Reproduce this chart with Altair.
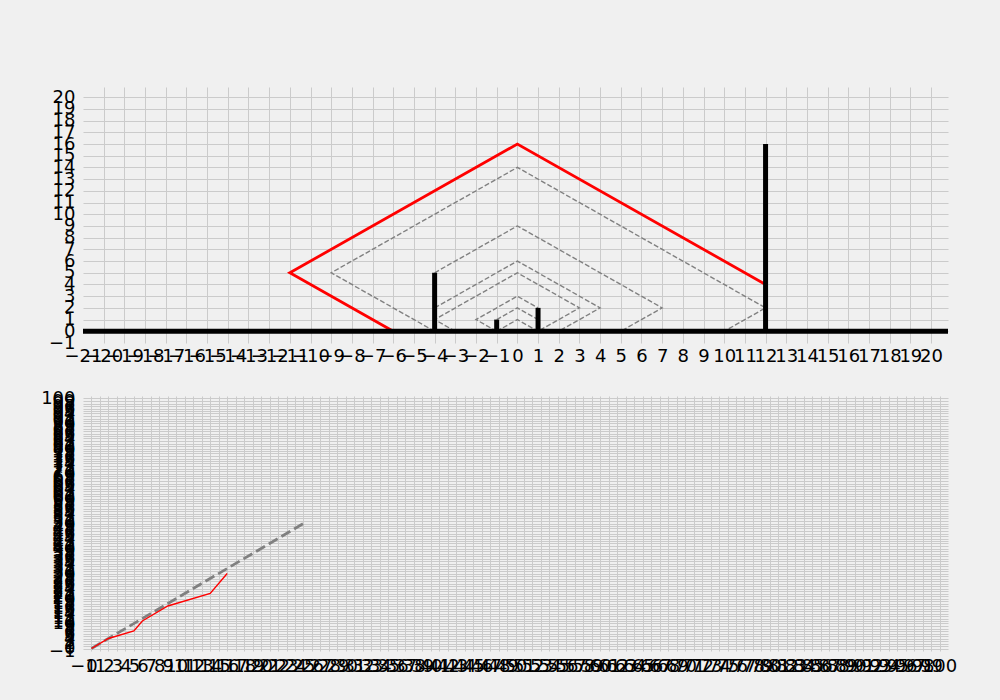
import altair as alt
import pandas as pd

# ---------------- top panel data ----------------
bar_x = [-4, -1, 1, 12]
bar_h = [5, 1, 2, 16]

red_x = [-6, -11, 0, 12]
red_y = [0, 5, 16, 4]

dash1_x = [-4, -9, 0, 12, 10]
dash1_y = [0, 5, 14, 2, 0]
dash2_x = [-4, 0, 7, 5]
dash2_y = [5, 9, 2, 0]
dash3_x = [-4, 0, 4, 2]
dash3_y = [2, 6, 2, 0]
dash4_x = [-3, -4, 0, 3, 1]
dash4_y = [0, 1, 5, 2, 0]
dash5_x = [-1, -2, 0, 1]
dash5_y = [0, 1, 3, 2]
dash6_x = [-1, 0, 1]
dash6_y = [1, 2, 1]
dash7_x = [-1, 0, 1]
dash7_y = [0, 1, 0]

top_x_ticks = list(range(-21, 21))
top_y_ticks = list(range(-1, 21))

# ---------------- bottom panel data ----------------
curve_x = [0, 2, 5, 6, 9, 14, 16]
curve_y = [0, 4, 7, 11, 17, 22, 30]
ref_x = [0, 25]
ref_y = [0, 50]

bot_x_ticks = list(range(-1, 101))
bot_y_ticks = list(range(-1, 101))

FONT = "DejaVu Sans"


def mk_axis(values, cond, pad):
    return alt.Axis(
        values=values, title=None, grid=True, ticks=False, tickSize=0, domain=False,
        labelOverlap=False, labelFlush=False, labelBound=False, labelPadding=pad,
        labelFont=FONT, labelFontSize=18, labelColor="black", format="d",
        gridColor="#cbcbcb", gridWidth=1,
        gridOpacity={"condition": {"test": cond, "value": 0}, "value": 1},
    )


# ---------- top ----------
xs_top = alt.Scale(domain=[-21, 20.82], nice=False, zero=False)
ys_top = alt.Scale(domain=[-1, 20.87], nice=False, zero=False)
ax_x_top = mk_axis(top_x_ticks, "datum.value < -20.5", 4)
ax_y_top = mk_axis(top_y_ticks, "datum.value < -0.5", 8)

bars_df = pd.DataFrame({"x": bar_x, "base": [0] * len(bar_x), "h": bar_h})
red_df = pd.DataFrame({"x": red_x, "y": red_y, "i": range(len(red_x))})
dash_rows = []
for g, (dx, dy) in enumerate([(dash1_x, dash1_y), (dash2_x, dash2_y), (dash3_x, dash3_y),
                              (dash4_x, dash4_y), (dash5_x, dash5_y), (dash6_x, dash6_y),
                              (dash7_x, dash7_y)]):
    for i, (a, b) in enumerate(zip(dx, dy)):
        dash_rows.append({"x": a, "y": b, "g": g, "i": i})
dash_df = pd.DataFrame(dash_rows)

X_top = lambda f: alt.X(f, scale=xs_top, axis=ax_x_top)
Y_top = lambda f: alt.Y(f, scale=ys_top, axis=ax_y_top)

dashed = alt.Chart(dash_df).mark_line(color="gray", strokeWidth=1.4, strokeDash=[5, 2.2], clip=True).encode(
    x=X_top("x:Q"), y=Y_top("y:Q"), detail="g:N", order="i:Q")
red = alt.Chart(red_df).mark_line(color="red", strokeWidth=2.8, clip=True).encode(
    x=X_top("x:Q"), y=Y_top("y:Q"), order="i:Q")
hline = alt.Chart(pd.DataFrame({"y": [0]})).mark_rule(color="black", strokeWidth=5).encode(
    y=Y_top("y:Q"))
bars = alt.Chart(bars_df).mark_rule(color="black", strokeWidth=5, strokeCap="butt").encode(
    x=X_top("x:Q"), y=Y_top("base:Q"), y2="h:Q")

top = alt.layer(dashed, red, hline, bars).properties(width=865, height=256)

# ---------- bottom ----------
xs_bot = alt.Scale(domain=[-1, 101.0], nice=False, zero=False)
ys_bot = alt.Scale(domain=[-1, 101.0], nice=False, zero=False)
ax_x_bot = mk_axis(bot_x_ticks, "datum.value < -0.5", 6)
ax_y_bot = mk_axis(bot_y_ticks, "datum.value < -0.5", 8)

curve_df = pd.DataFrame({"x": curve_x, "y": curve_y, "i": range(len(curve_x))})
ref_df = pd.DataFrame({"x": ref_x, "y": ref_y, "i": range(len(ref_x))})

X_bot = lambda f: alt.X(f, scale=xs_bot, axis=ax_x_bot)
Y_bot = lambda f: alt.Y(f, scale=ys_bot, axis=ax_y_bot)

ref_line = alt.Chart(ref_df).mark_line(color="gray", strokeWidth=2.8, strokeDash=[10.3, 4.4]).encode(
    x=X_bot("x:Q"), y=Y_bot("y:Q"), order="i:Q")
curve = alt.Chart(curve_df).mark_line(color="red", strokeWidth=1.4).encode(
    x=X_bot("x:Q"), y=Y_bot("y:Q"), order="i:Q")

bottom = alt.layer(ref_line, curve).properties(width=865, height=255)

chart = alt.vconcat(top, bottom, spacing=22).properties(
    background="#f0f0f0",
    padding={"left": 40, "top": 86, "right": 42, "bottom": 24},
).configure_view(fill="#f0f0f0", stroke="transparent")

chart.save("out.html", embed_options={"renderer": "svg", "actions": False})
